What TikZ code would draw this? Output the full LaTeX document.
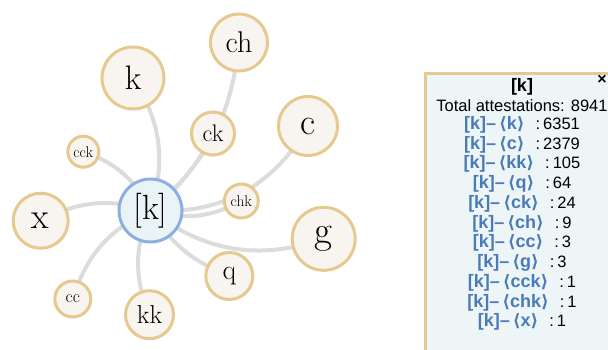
\documentclass[tikz,border=0pt]{standalone}
\usepackage{fontspec}
\newfontfamily\panelfont{Liberation Sans}
\newfontfamily\brfont{DejaVu Sans}
\usetikzlibrary{backgrounds}
\definecolor{leafdraw}{HTML}{E5C98E}
\definecolor{leaffill}{HTML}{F8F4EF}
\definecolor{hubdraw}{HTML}{8EADE2}
\definecolor{hubfill}{HTML}{E9F4F6}
\definecolor{linkgray}{HTML}{DCDCDC}
\definecolor{panelfill}{HTML}{EDF5F7}
\definecolor{panelblue}{HTML}{4A7BB7}
\newcommand{\setfs}[1]{\fontsize{#1}{#1}\selectfont}
\newcommand{\pairrow}[2]{{\bfseries\setfs{18}\color{panelblue}[k]\textendash\hspace{3pt}{\brfont\bfseries\setfs{17}\char"27E8}#1{\brfont\bfseries\setfs{17}\char"27E9}}\hspace{11pt}:\hspace{3pt}#2}

\begin{document}
\begin{tikzpicture}[x=1pt,y=-1pt,
  leaf/.style={circle,draw=leafdraw,fill=leaffill,line width=3pt,inner sep=0pt},
  hub/.style={circle,draw=hubdraw,fill=hubfill,line width=3pt,inner sep=0pt,minimum size=63pt},
  link/.style={draw=linkgray,line width=4pt},
  row/.style={font=\panelfont\setfs{16.5},inner sep=0pt}]
   \useasboundingbox (0,0) rectangle (608,349);
   \node[hub] (n_hub) at (150.5,210.5) {\setfs{35}[k]};
   \node[leaf,minimum size=62pt] (n_k) at (133,78) {\setfs{34}k};
   \node[leaf,minimum size=57pt] (n_ch) at (239,42.5) {\setfs{30}ch};
   \node[leaf,minimum size=43pt] (n_ck) at (213,133.5) {\setfs{24}ck};
   \node[leaf,minimum size=59pt] (n_c) at (308,126) {\setfs{37}c};
   \node[leaf,minimum size=31pt] (n_cck) at (83.3,151.7) {\setfs{15.5}cck};
   \node[leaf,minimum size=34pt] (n_chk) at (241.3,201) {\setfs{15.5}chk};
   \node[leaf,minimum size=55pt] (n_x) at (40.7,220.7) {\setfs{36}x};
   \node[leaf,minimum size=63pt] (n_g) at (323.7,238.8) {\setfs{39}g};
   \node[leaf,minimum size=47pt] (n_q) at (229.3,276) {\setfs{28}q};
   \node[leaf,minimum size=48pt] (n_kk) at (149.5,314.7) {\setfs{26}kk};
   \node[leaf,minimum size=36pt] (n_cc) at (72.8,299) {\setfs{17.5}cc};
   \begin{scope}[on background layer]
    \path[link]
    (n_hub.center) edge [bend right=25] (n_k.center)
    (n_hub.center) edge [bend right=22] (n_ch.center)
    (n_hub.center) edge [bend right=12] (n_ck.center)
    (n_hub.center) edge [bend right=32] (n_c.center)
    (n_hub.center) edge [bend right=22] (n_chk.center)
    (n_hub.center) edge [bend right=28] (n_g.center)
    (n_hub.center) edge [bend right=18] (n_q.center)
    (n_hub.center) edge [bend right=23] (n_kk.center)
    (n_hub.center) edge [bend right=24] (n_cc.center)
    (n_hub.center) edge [bend right=22] (n_x.center)
    (n_hub.center) edge [bend right=22] (n_cck.center);
   \end{scope}
   % info panel
   \draw[draw=leafdraw,fill=panelfill,line width=3pt] (425.5,73.5) rectangle (700,400);
   \node[row,font=\panelfont\bfseries\setfs{18}] (t_head) at (522,87) {[k]};
   \node[row,font=\panelfont\bfseries\setfs{16}] (t_close) at (602,80) {×};
   \node[row] (t_total) at (522,106) {Total attestations: 8941};
   \node[row] (t_k) at (522,125) {\pairrow{k}{6351}};
   \node[row] (t_c) at (522,145) {\pairrow{c}{2379}};
   \node[row] (t_kk) at (522,164) {\pairrow{kk}{105}};
   \node[row] (t_q) at (522,184) {\pairrow{q}{64}};
   \node[row] (t_ck) at (522,204) {\pairrow{ck}{24}};
   \node[row] (t_ch) at (522,224) {\pairrow{ch}{9}};
   \node[row] (t_cc) at (522,243) {\pairrow{cc}{3}};
   \node[row] (t_g) at (522,263) {\pairrow{g}{3}};
   \node[row] (t_cck) at (522,283) {\pairrow{cck}{1}};
   \node[row] (t_chk) at (522,303) {\pairrow{chk}{1}};
   \node[row] (t_x) at (522,322) {\pairrow{x}{1}};
\end{tikzpicture}
\end{document}
